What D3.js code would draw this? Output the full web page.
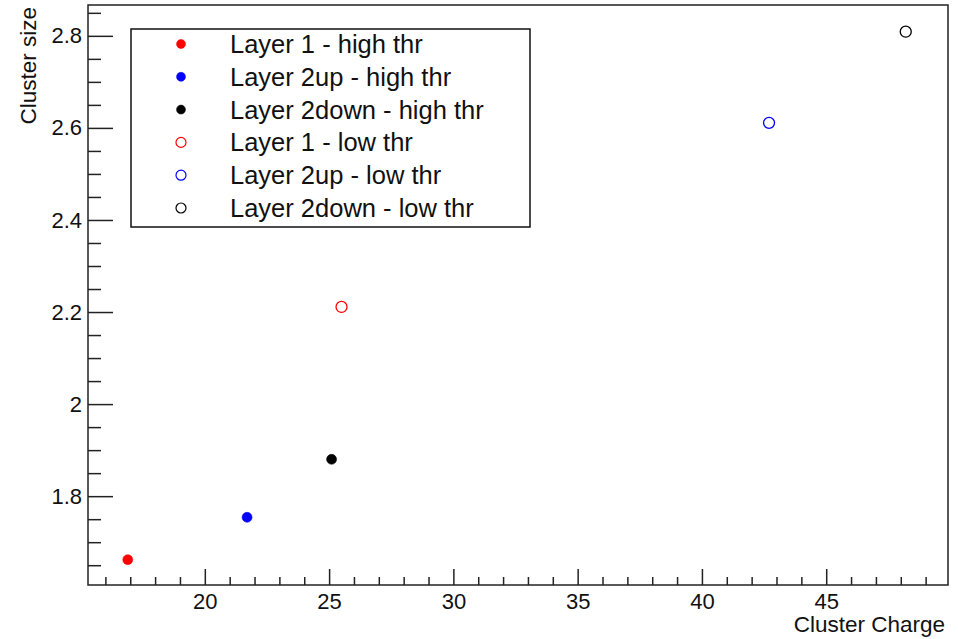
<!DOCTYPE html>
<html>
<head>
<meta charset="utf-8">
<script src="https://cdn.jsdelivr.net/npm/d3@7"></script>
<style>
  html, body { margin: 0; padding: 0; background: #fff; }
  svg { display: block; font-family: 'Liberation Sans', Arial, Helvetica, sans-serif; }
</style>
</head>
<body>
<svg id="chart" width="958" height="639"></svg>
<script>
// Series (one point each)
const labels = [
  'Layer 1 - high thr',
  'Layer 2up - high thr',
  'Layer 2down - high thr',
  'Layer 1 - low thr',
  'Layer 2up - low thr',
  'Layer 2down - low thr',
];
const charge = [16.9, 21.7, 25.1, 25.5, 42.7, 48.2];
const size = [1.662, 1.754, 1.880, 2.211, 2.611, 2.809];
const colors = ['#ff0000', '#0000ff', '#000000', '#ff0000', '#0000ff', '#000000'];
const filled = [true, true, true, false, false, false];

// Axis ticks
const xTicks = [20, 25, 30, 35, 40, 45];
const yTicks = [1.8, 2, 2.2, 2.4, 2.6, 2.8];
const xDomain = [15.3, 49.9];
const yDomain = [1.607, 2.867];

// Layout
const W = 958;
const H = 639;
const M = { top: 5, right: 10, bottom: 54, left: 88 };
const innerW = W - M.left - M.right;
const innerH = H - M.top - M.bottom;

const svg = d3.select('#chart');
const g = svg.append('g').attr('transform', `translate(${M.left},${M.top})`);

const x = d3.scaleLinear(xDomain, [0, innerW]);
const y = d3.scaleLinear(yDomain, [innerH, 0]);

// minor tick positions (every 1 on x, every 0.05 on y)
const xMinor = d3.range(16, 50, 1).filter((v) => v % 5 !== 0);
const yMinor = d3.range(33, 58, 1).map((v) => v / 20).filter((v) => Math.round(v * 20) % 4 !== 0);

// X axis
g.append('g')
  .attr('class', 'x minor')
  .attr('transform', `translate(0,${innerH})`)
  .call(d3.axisBottom(x).tickValues(xMinor).tickSize(-8).tickFormat(''));
g.append('g')
  .attr('class', 'x major')
  .attr('transform', `translate(0,${innerH})`)
  .call(d3.axisBottom(x).tickValues(xTicks).tickSize(-16).tickPadding(8).tickFormat(d3.format('~g')));

// Y axis
g.append('g')
  .attr('class', 'y minor')
  .call(d3.axisLeft(y).tickValues(yMinor).tickSize(-13).tickFormat(''));
g.append('g')
  .attr('class', 'y major')
  .call(d3.axisLeft(y).tickValues(yTicks).tickSize(-25).tickPadding(6).tickFormat(d3.format('~g')));

g.selectAll('.domain').remove();
g.selectAll('.tick line').attr('stroke', '#222').attr('stroke-width', 1.5);
g.selectAll('.tick text').attr('fill', '#111').style('font-size', '22px');

// Frame
g.append('rect')
  .attr('width', innerW)
  .attr('height', innerH)
  .attr('fill', 'none')
  .attr('stroke', '#222')
  .attr('stroke-width', 1.5);

// Axis titles
svg.append('text')
  .attr('x', W - 13)
  .attr('y', 632)
  .attr('text-anchor', 'end')
  .style('font-size', '22.5px')
  .attr('fill', '#111')
  .text('Cluster Charge');

svg.append('text')
  .attr('transform', 'translate(36,7) rotate(-90)')
  .attr('text-anchor', 'end')
  .style('font-size', '22.5px')
  .attr('fill', '#111')
  .text('Cluster size');

// Points
const pts = labels.map((l, i) => ({
  label: l, x: charge[i], y: size[i], color: colors[i], filled: filled[i],
}));

g.selectAll('circle.pt')
  .data(pts)
  .enter()
  .append('circle')
  .attr('class', 'pt')
  .attr('cx', (d) => x(d.x))
  .attr('cy', (d) => y(d.y))
  .attr('r', (d) => (d.filled ? 5 : 5.5))
  .attr('fill', (d) => (d.filled ? d.color : 'none'))
  .attr('stroke', (d) => d.color)
  .attr('stroke-width', (d) => (d.filled ? 0.5 : 1.3));

// Legend
const leg = svg.append('g').attr('transform', 'translate(131,29)');
leg.append('rect')
  .attr('width', 399)
  .attr('height', 198)
  .attr('fill', '#fff')
  .attr('stroke', '#111')
  .attr('stroke-width', 1.5);

const rows = leg.selectAll('g.row')
  .data(pts)
  .enter()
  .append('g')
  .attr('class', 'row')
  .attr('transform', (d, i) => `translate(0,${15 + i * 32.8})`);

rows.append('circle')
  .attr('cx', 50)
  .attr('r', (d) => (d.filled ? 4.5 : 5))
  .attr('fill', (d) => (d.filled ? d.color : 'none'))
  .attr('stroke', (d) => d.color)
  .attr('stroke-width', (d) => (d.filled ? 0.5 : 1.2));

rows.append('text')
  .attr('x', 99)
  .attr('dy', '0.35em')
  .style('font-size', '25.5px')
  .attr('fill', '#111')
  .text((d) => d.label);
</script>
</body>
</html>
